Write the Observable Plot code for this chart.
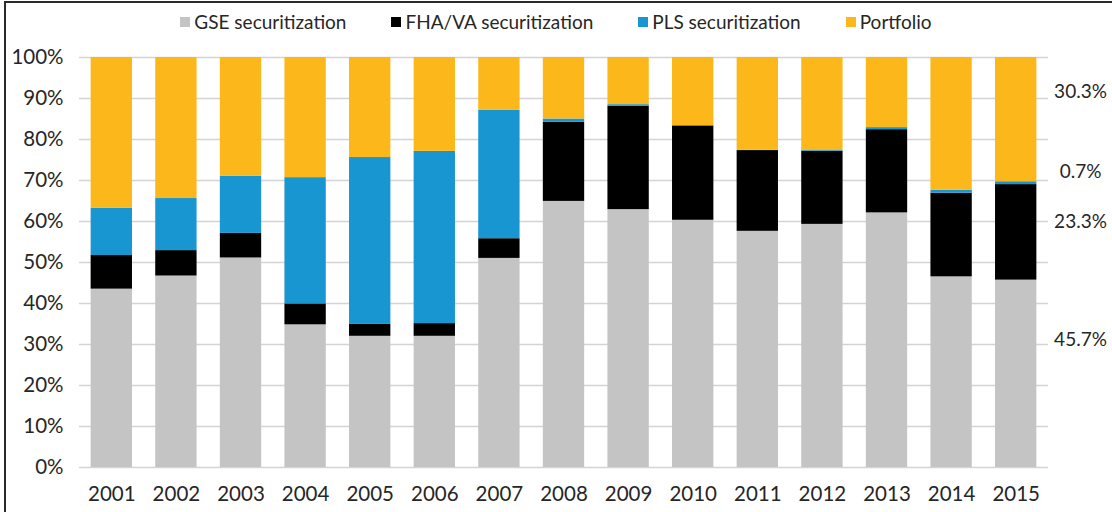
<!DOCTYPE html>
<html>
<head>
<meta charset="utf-8">
<script src="https://cdn.jsdelivr.net/npm/d3@7"></script>
<script src="https://cdn.jsdelivr.net/npm/@observablehq/plot@0.6"></script>
<style>
  html, body { margin: 0; padding: 0; background: #fff; }
  body { width: 1112px; height: 512px; position: relative; overflow: hidden; font-family: Lato, "Open Sans", sans-serif; color: #262626; }
  #borderL { position: absolute; left: 4px; top: 1px; width: 2px; height: 511px; background: #2a2a2a; }
  #borderT { position: absolute; left: 4px; top: 1px; width: 1108px; height: 2px; background: #2a2a2a; }
  #legend { position: absolute; left: 0; top: 10px; width: 1112px; height: 24px; display: flex; justify-content: center; align-items: center; gap: 45px; font-size: 19px; line-height: 24px; }
  #legend .item { display: flex; align-items: center; gap: 4px; }
  #legend .sw { width: 10px; height: 10px; display: inline-block; }
  #chart { position: absolute; left: 0; top: 40px; }
</style>
</head>
<body>
<div id="borderL"></div>
<div id="borderT"></div>
<div id="legend"></div>
<div id="chart"></div>
<script>
// ---- Data (percent of originations) ----
const years = ["2001","2002","2003","2004","2005","2006","2007","2008","2009","2010","2011","2012","2013","2014","2015"];
const categories = ["GSE securitization", "FHA/VA securitization", "PLS securitization", "Portfolio"];
const colors = ["#c4c4c4", "#000000", "#1896d2", "#fcb81a"];
const gse       = [43.5, 46.7, 51.1, 34.8, 32.0, 32.0, 51.0, 64.9, 62.9, 60.3, 57.6, 59.3, 62.1, 46.5, 45.7];
const fhava     = [ 8.2,  6.2,  6.0,  5.1,  2.9,  3.1,  4.8, 19.3, 25.2, 23.0, 19.7, 17.8, 20.3, 20.4, 23.3];
const pls       = [11.5, 12.7, 13.9, 30.8, 40.7, 42.0, 31.3,  0.8,  0.4,  0.1,  0.1,  0.2,  0.5,  0.7,  0.7];
const portfolio = [36.8, 34.4, 29.0, 29.3, 24.4, 22.9, 12.9, 15.0, 11.5, 16.6, 22.6, 22.7, 17.1, 32.4, 30.3];
const yTicks = [0, 10, 20, 30, 40, 50, 60, 70, 80, 90, 100];
// 2015 value labels shown at the right of the chart (category, vertical position in %)
const labelCats = ["Portfolio", "PLS securitization", "FHA/VA securitization", "GSE securitization"];
const labelPos  = [91.5, 72.2, 59.8, 31.0];

// ---- Build table ----
const series = [gse, fhava, pls, portfolio];
const rows = [];
years.forEach((yr, i) => {
  categories.forEach((c, k) => rows.push({year: yr, category: c, value: series[k][i]}));
});
const last = years.length - 1;
const rightLabels = labelCats.map((c, j) => ({
  pos: labelPos[j],
  text: series[categories.indexOf(c)][last].toFixed(1) + "%"
}));

// ---- Legend ----
const legend = document.getElementById("legend");
categories.forEach((c, k) => {
  const it = document.createElement("span");
  it.className = "item";
  const sw = document.createElement("span");
  sw.className = "sw";
  sw.style.background = colors[k];
  const t = document.createElement("span");
  t.textContent = c;
  it.appendChild(sw); it.appendChild(t);
  legend.appendChild(it);
});

// ---- Chart ----
const chart = Plot.plot({
  width: 1112,
  height: 472,
  marginTop: 17,
  marginBottom: 45,
  marginLeft: 79,
  marginRight: 64,
  style: {fontFamily: "Lato, 'Open Sans', sans-serif", fontSize: "20px", color: "#262626", background: "transparent"},
  x: {domain: years, paddingInner: 0.36, paddingOuter: 0.18, round: false, label: null},
  y: {domain: [0, 100], label: null},
  color: {domain: categories, range: colors},
  marks: [
    Plot.ruleY(yTicks, {stroke: "#d4d4d4", strokeWidth: 1.6}),
    Plot.barY(rows, Plot.stackY({order: categories}, {x: "year", y: "value", fill: "category"})),
    Plot.axisY({ticks: yTicks, tickSize: 0, tickPadding: 16, tickFormat: d => d + "%", fontSize: 20.5, label: null}),
    Plot.axisX({tickSize: 0, tickPadding: 19, fontSize: 20.5, label: null}),
    Plot.text(rightLabels, {y: "pos", text: "text", frameAnchor: "right", dx: 32, textAnchor: "middle", fontSize: 19, fill: "#262626"})
  ]
});
document.getElementById("chart").appendChild(chart);
</script>
</body>
</html>
